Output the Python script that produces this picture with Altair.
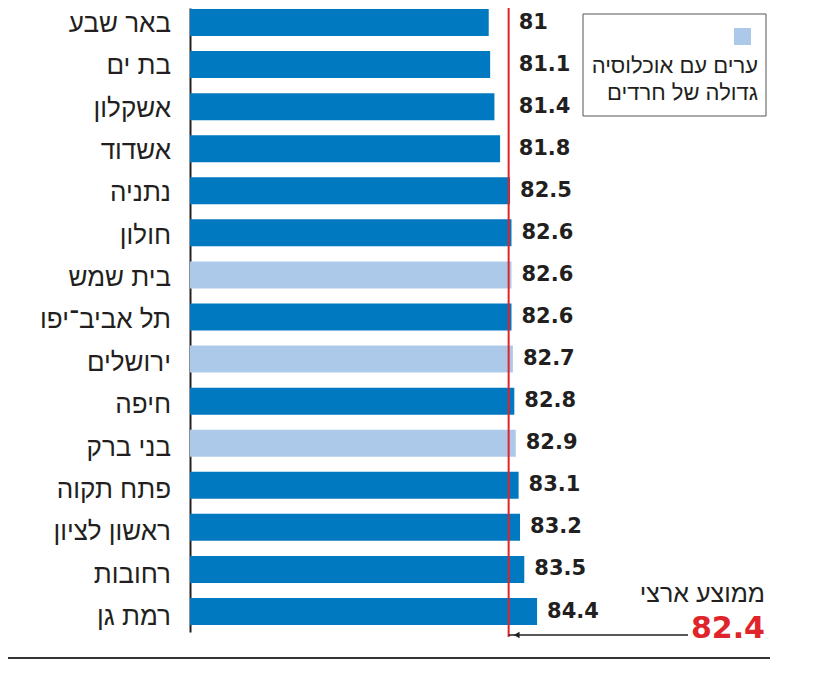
import altair as alt
import pandas as pd

cities = ["באר שבע", "בת ים", "אשקלון", "אשדוד", "נתניה", "חולון", "בית שמש",
          "תל אביב־יפו", "ירושלים", "חיפה", "בני ברק", "פתח תקוה", "ראשון לציון",
          "רחובות", "רמת גן"]
values = [81, 81.1, 81.4, 81.8, 82.5, 82.6, 82.6, 82.6, 82.7, 82.8, 82.9, 83.1, 83.2, 83.5, 84.4]
haredi = [False, False, False, False, False, False, True, False, True, False, True,
          False, False, False, False]
avg_value = 82.4
avg_label = "ממוצע ארצי"
legend_lines = ["ערים עם אוכלוסיה", "גדולה של חרדים"]

DARK = "#0079c1"
LIGHT = "#adc9ea"
RED = "#e0242b"
INK = "#231f20"
FONT = "Liberation Sans Narrow, Liberation Sans, DejaVu Sans, sans-serif"
NUMFONT = "DejaVu Sans, Liberation Sans, sans-serif"

df = pd.DataFrame({
    "city": cities,
    "value": values,
    "group": ["haredi" if h else "other" for h in haredi],
})
avg_df = pd.DataFrame({"avg": [avg_value], "label": [avg_label]})
one = pd.DataFrame({"a": [0]})
leg_df = pd.DataFrame({"l1": [legend_lines[0]], "l2": [legend_lines[1]]})

x_scale = alt.Scale(domain=[60, 100], nice=False, zero=False)
y_scale = alt.Scale(type="band", domain=cities, paddingInner=0.358, paddingOuter=0.095,
                    align=0.125)
label_scale = alt.Scale(type="point", domain=cities, padding=0.366, align=0.516)

bars = alt.Chart(df).mark_bar().encode(
    y=alt.Y("city:N", scale=y_scale, sort=cities,
            axis=alt.Axis(title=None, ticks=False, labels=False, domainColor=INK,
                          domainWidth=2, grid=False)),
    x=alt.X("value:Q", scale=x_scale, axis=None),
    x2=alt.datum(60),
    color=alt.Color("group:N", scale=alt.Scale(domain=["other", "haredi"], range=[DARK, LIGHT]),
                    legend=None),
)

city_labels = alt.Chart(df).mark_text(align="right", baseline="middle", font=FONT,
                                      fontSize=26, color=INK).encode(
    y=alt.Y("city:N", scale=label_scale, sort=cities, axis=None),
    x=alt.value(-19),
    text="city:N",
)

labels = alt.Chart(df).transform_calculate(
    lx=f"max(datum.value, {avg_value})"
).mark_text(align="left", baseline="middle", dx=10, font=NUMFONT, fontWeight="bold",
            fontSize=21, color=INK).encode(
    y=alt.Y("city:N", scale=y_scale, sort=cities, axis=None),
    x=alt.X("lx:Q", scale=x_scale),
    text=alt.Text("value:Q", format=".1~f"),
)

avg_rule = alt.Chart(avg_df).mark_rule(color=RED, strokeWidth=2).encode(
    x=alt.X("avg:Q", scale=x_scale),
    y=alt.value(0),
    y2=alt.value(629),
)

arrow_line = alt.Chart(avg_df).mark_rule(color=INK, strokeWidth=1.5).encode(
    x=alt.X("avg:Q", scale=x_scale),
    x2=alt.value(498),
    y=alt.value(627),
)
arrow_head = alt.Chart(avg_df).mark_point(shape="triangle-left", filled=True, size=45,
                                          color=INK, opacity=1, xOffset=8).encode(
    x=alt.X("avg:Q", scale=x_scale),
    y=alt.value(627),
)

avg_text = alt.Chart(avg_df).mark_text(align="right", baseline="alphabetic", font=FONT,
                                       fontSize=25, color=INK).encode(
    x=alt.value(575), y=alt.value(594), text="label:N")
avg_num = alt.Chart(avg_df).mark_text(align="right", baseline="alphabetic", font=NUMFONT,
                                      fontWeight="bold", fontSize=30, color=RED).encode(
    x=alt.value(575), y=alt.value(630), text=alt.Text("avg:Q", format=".1f"))

bottom_line = alt.Chart(one).mark_rule(color="#333333", strokeWidth=2).encode(
    x=alt.value(-187), x2=alt.value(580), y=alt.value(650))

leg_box = alt.Chart(one).mark_rect(fill="white", stroke="#555555", strokeWidth=1).encode(
    x=alt.value(393), x2=alt.value(576), y=alt.value(6), y2=alt.value(108))
leg_sq = alt.Chart(one).mark_rect(fill=LIGHT).encode(
    x=alt.value(544), x2=alt.value(561), y=alt.value(20), y2=alt.value(37))
leg_t1 = alt.Chart(leg_df).mark_text(align="right", baseline="alphabetic", font=FONT,
                                     fontSize=22, color=INK).encode(
    x=alt.value(568), y=alt.value(65), text="l1:N")
leg_t2 = alt.Chart(leg_df).mark_text(align="right", baseline="alphabetic", font=FONT,
                                     fontSize=22, color=INK).encode(
    x=alt.value(568), y=alt.value(92), text="l2:N")

chart = alt.layer(
    bars, city_labels, labels, avg_rule, arrow_line, arrow_head, avg_text, avg_num,
    bottom_line, leg_box, leg_sq, leg_t1, leg_t2
).resolve_scale(y="independent").properties(
    width=569, height=624,
    padding={"left": 182, "top": 0, "right": 59, "bottom": 33},
    autosize=alt.AutoSizeParams(type="none"),
).configure_view(stroke=None)

chart.save("out.html", embed_options={"renderer": "svg", "actions": False})
